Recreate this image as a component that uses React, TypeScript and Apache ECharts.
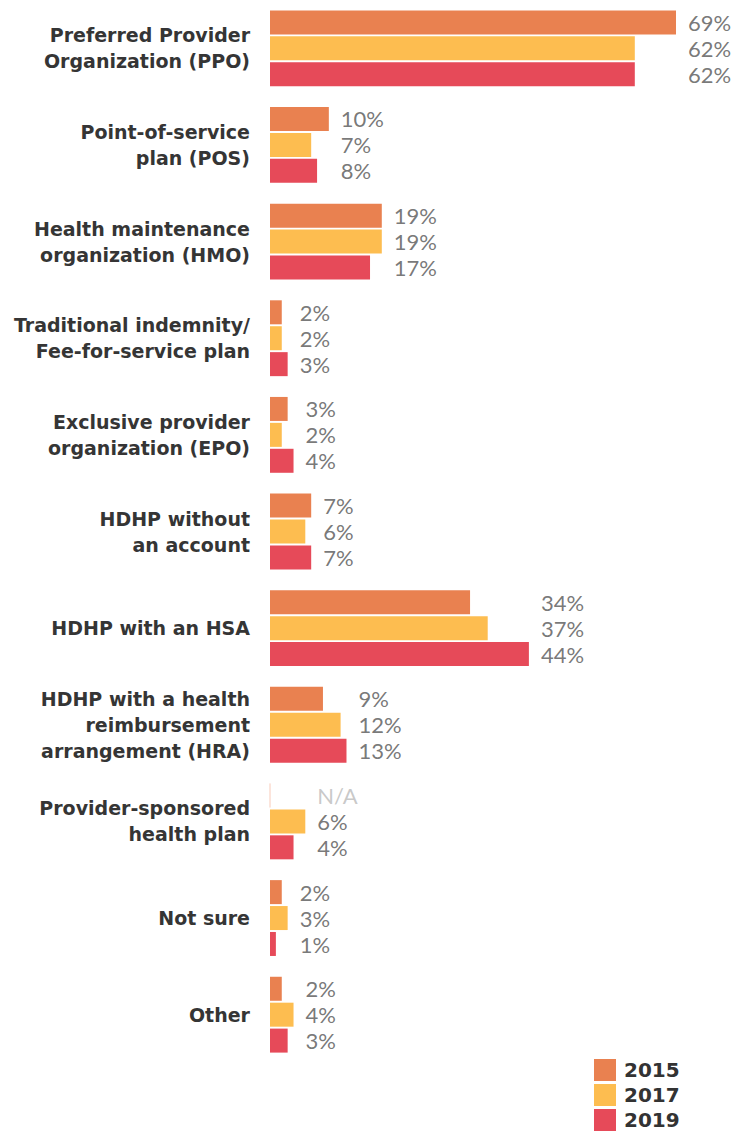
import React, { useEffect, useRef } from "react";
import * as echarts from "echarts";

const categories = [
  "Preferred Provider\nOrganization (PPO)",
  "Point-of-service\nplan (POS)",
  "Health maintenance\norganization (HMO)",
  "Traditional indemnity/\nFee-for-service plan",
  "Exclusive provider\norganization (EPO)",
  "HDHP without\nan account",
  "HDHP with an HSA",
  "HDHP with a health\nreimbursement\narrangement (HRA)",
  "Provider-sponsored\nhealth plan",
  "Not sure",
  "Other",
];

const years = ["2015", "2017", "2019"];
const values2015: (number | null)[] = [69, 10, 19, 2, 3, 7, 34, 9, null, 2, 2];
const values2017: (number | null)[] = [62, 7, 19, 2, 2, 6, 37, 12, 6, 3, 4];
const values2019: (number | null)[] = [62, 8, 17, 3, 4, 7, 44, 13, 4, 1, 3];
const colors = ["#E98150", "#FDBD50", "#E64A59"];

export default function App() {
  const ref = useRef<HTMLDivElement>(null);
  useEffect(() => {
    document.body.style.margin = "0";
    if (!ref.current) return;
    const chart = echarts.init(ref.current, undefined, { renderer: "svg" });
    const allSeries = [values2015, values2017, values2019];
    const groupMax = categories.map((_, i) =>
      Math.max(...allSeries.map((s) => (s[i] == null ? 0 : (s[i] as number))))
    );
    const offsets = [-26, 0, 26];

    const barSeries = allSeries.map((vals, si) => ({
      type: "bar",
      name: years[si],
      barWidth: 24,
      barGap: "8%",
      itemStyle: { color: colors[si] },
      data: vals.map((v) =>
        v == null
          ? { value: 0, itemStyle: { borderColor: "#fbdcd0", borderWidth: 1 } }
          : v
      ),
      silent: true,
    }));

    const labelSeries = allSeries.map((vals, si) => ({
      type: "scatter",
      name: "lbl" + years[si],
      symbolSize: 0,
      silent: true,
      data: categories.map((c, i) => ({
        value: [groupMax[i], c],
        label: {
          show: true,
          position: "right",
          distance: 12,
          offset: [0, offsets[si]],
          formatter: vals[i] == null ? "N/A" : vals[i] + "%",
          color: vals[i] == null ? "#bbbbbb" : "#555555",
          fontFamily: "Lato",
          fontWeight: "normal",
          fontSize: 22,
        },
      })),
    }));

    chart.setOption({
      animation: false,
      grid: { left: 270, right: 26.7, top: 0, bottom: 1131 - 1063 },
      xAxis: {
        type: "value",
        min: 0,
        max: 75,
        show: false,
        splitLine: { show: false },
      },
      yAxis: {
        type: "category",
        inverse: true,
        data: categories,
        axisLine: { show: false },
        axisTick: { show: false },
        axisLabel: {
          margin: 20,
          color: "#353535",
          fontFamily: "DejaVu Sans",
          fontWeight: "bold",
          fontSize: 19,
          lineHeight: 26,
          align: "right",
        },
      },
      legend: {
        data: years,
        orient: "vertical",
        left: 594,
        top: 1059,
        padding: 0,
        itemWidth: 22,
        itemHeight: 22,
        itemGap: 3,
        icon: "rect",
        selectedMode: false,
        textStyle: {
          color: "#333",
          fontFamily: "DejaVu Sans",
          fontWeight: "bold",
          fontSize: 20,
          padding: [0, 0, 0, 3],
        },
      },
      series: [...barSeries, ...labelSeries],
    });
    return () => chart.dispose();
  }, []);
  return <div ref={ref} style={{ width: 738, height: 1131 }} />;
}
